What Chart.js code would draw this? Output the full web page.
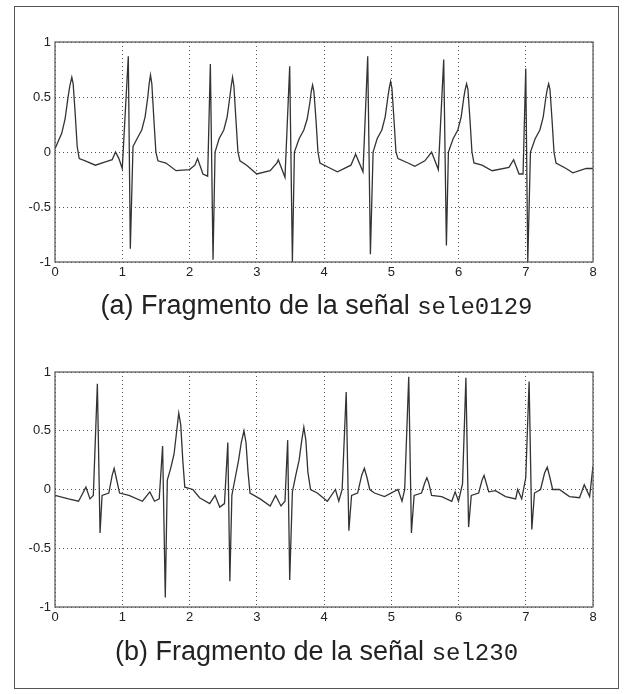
<!DOCTYPE html>
<html>
<head>
<meta charset="utf-8">
<script src="https://cdn.jsdelivr.net/npm/chart.js@4/dist/chart.umd.min.js"></script>
<style>
  body { margin: 0; background: #fff; }
  #frame { position: absolute; left: 14px; top: 6px; width: 603px; height: 681px; border: 1.5px solid #555; }
  canvas { position: absolute; left: 0; }
  .cap { position: absolute; left: 0; width: 633px; text-align: center; font-family: "Liberation Sans", Arial, sans-serif; font-size: 27px; color: #222; }
  .cap span { font-family: "Liberation Mono", "DejaVu Sans Mono", monospace; font-size: 24px; }
</style>
</head>
<body>
<div id="frame"></div>
<canvas id="c1" style="top:0"></canvas>
<canvas id="c2" style="top:330px"></canvas>
<div class="cap" style="top:290px">(a) Fragmento de la señal <span>sele0129</span></div>
<div class="cap" style="top:636px">(b) Fragmento de la señal <span>sel230</span></div>
<script>
// señal sele0129 (tiempo en s, amplitud)
const timeA = [0, 0.05, 0.1, 0.15, 0.19, 0.22, 0.25, 0.27, 0.3, 0.33, 0.36, 0.45, 0.6, 0.75, 0.85, 0.9, 0.95, 1.0, 1.09, 1.12,
  1.16, 1.22, 1.29, 1.34, 1.38, 1.4, 1.42, 1.44, 1.47, 1.5, 1.53, 1.65, 1.8, 2.0, 2.08, 2.12, 2.2, 2.27, 2.31, 2.35,
  2.38, 2.44, 2.51, 2.56, 2.6, 2.62, 2.64, 2.66, 2.69, 2.72, 2.75, 2.85, 3.0, 3.2, 3.3, 3.32, 3.42, 3.49, 3.53,
  3.56, 3.63, 3.7, 3.75, 3.79, 3.81, 3.83, 3.85, 3.88, 3.91, 3.94, 4.1, 4.2, 4.4, 4.47, 4.58, 4.65, 4.69,
  4.73, 4.79, 4.86, 4.91, 4.95, 4.97, 4.99, 5.01, 5.04, 5.07, 5.1, 5.25, 5.35, 5.5, 5.6, 5.7, 5.78, 5.82,
  5.85, 5.92, 5.99, 6.04, 6.08, 6.1, 6.12, 6.14, 6.17, 6.2, 6.23, 6.35, 6.5, 6.75, 6.82, 6.9, 6.96, 7.0, 7.03,
  7.07, 7.14, 7.21, 7.26, 7.3, 7.32, 7.34, 7.36, 7.39, 7.42, 7.45, 7.6, 7.7, 7.9, 8.0];
const ampA = [0.03, 0.1, 0.17, 0.3, 0.48, 0.6, 0.68, 0.62, 0.35, 0.05, -0.06, -0.08, -0.12, -0.09, -0.07, 0.0, -0.06, -0.15, 0.87, -0.88,
  0.05, 0.12, 0.2, 0.32, 0.5, 0.62, 0.7, 0.62, 0.3, 0.0, -0.08, -0.1, -0.17, -0.16, -0.12, -0.06, -0.2, -0.22, 0.8, -0.98,
  0.0, 0.12, 0.2, 0.32, 0.5, 0.6, 0.68, 0.6, 0.3, 0.0, -0.08, -0.12, -0.2, -0.17, -0.1, -0.07, -0.23, 0.78, -1.0,
  0.0, 0.12, 0.2, 0.3, 0.45, 0.55, 0.61, 0.55, 0.3, 0.0, -0.1, -0.15, -0.18, -0.12, -0.02, -0.18, 0.87, -0.93,
  0.0, 0.12, 0.2, 0.32, 0.5, 0.58, 0.64, 0.58, 0.3, 0.0, -0.06, -0.1, -0.13, -0.08, 0.0, -0.16, 0.84, -0.85,
  0.0, 0.12, 0.2, 0.32, 0.5, 0.57, 0.62, 0.57, 0.3, 0.0, -0.1, -0.12, -0.17, -0.14, -0.07, -0.2, -0.2, 0.76, -1.0,
  0.0, 0.12, 0.2, 0.32, 0.5, 0.57, 0.62, 0.57, 0.3, 0.0, -0.1, -0.15, -0.19, -0.15, -0.15];

// señal sel230
const timeB = [0, 0.2, 0.35, 0.46, 0.52, 0.57, 0.63, 0.67, 0.7, 0.8, 0.85, 0.88, 0.91, 0.96, 1.1, 1.3, 1.41, 1.48, 1.55, 1.6, 1.64,
  1.67, 1.72, 1.77, 1.81, 1.84, 1.87, 1.9, 1.93, 2.05, 2.15, 2.3, 2.38, 2.45, 2.52, 2.57, 2.6,
  2.63, 2.68, 2.73, 2.77, 2.81, 2.84, 2.87, 2.9, 3.05, 3.2, 3.28, 3.36, 3.42, 3.46, 3.49,
  3.53, 3.58, 3.63, 3.67, 3.7, 3.73, 3.76, 3.8, 3.9, 4.05, 4.17, 4.22, 4.27, 4.33, 4.37, 4.41, 4.5, 4.56, 4.6, 4.64, 4.68,
  4.75, 4.9, 5.1, 5.16, 5.2, 5.26, 5.3, 5.34, 5.45, 5.5, 5.53, 5.56, 5.6, 5.75, 5.9, 5.95, 6.0, 6.06, 6.11, 6.15, 6.19,
  6.3, 6.35, 6.38, 6.41, 6.45, 6.55, 6.7, 6.85, 6.88, 6.94, 7.0, 7.05, 7.09, 7.13, 7.22, 7.28, 7.32, 7.36, 7.4, 7.5, 7.65, 7.8, 7.87, 7.95, 8.0];
const ampB = [-0.05, -0.08, -0.1, 0.02, -0.08, -0.05, 0.9, -0.37, -0.05, -0.03, 0.12, 0.18, 0.1, -0.03, -0.05, -0.1, -0.02, -0.1, -0.08, 0.37, -0.92,
  0.08, 0.18, 0.3, 0.5, 0.65, 0.55, 0.25, 0.02, 0.0, -0.07, -0.12, -0.05, -0.15, -0.12, 0.4, -0.78,
  -0.05, 0.1, 0.25, 0.4, 0.5, 0.4, 0.15, -0.03, -0.08, -0.14, -0.05, -0.14, -0.1, 0.42, -0.77,
  -0.02, 0.12, 0.25, 0.42, 0.53, 0.42, 0.15, 0.0, -0.03, -0.1, 0.0, -0.1, 0.0, 0.83, -0.35, -0.05, -0.03, 0.12, 0.18, 0.1, 0.0,
  -0.03, -0.06, 0.0, -0.1, 0.0, 0.96, -0.37, -0.05, -0.03, 0.06, 0.1, 0.05, -0.05, -0.06, -0.1, -0.02, -0.1, 0.05, 0.95, -0.32, -0.05,
  -0.03, 0.08, 0.12, 0.06, -0.02, -0.01, -0.06, -0.08, 0.0, -0.08, 0.1, 0.92, -0.34, -0.03, 0.0, 0.14, 0.19, 0.1, 0.0, 0.0, -0.06, -0.07, 0.04, -0.06, 0.2];

const xTicks = [0, 1, 2, 3, 4, 5, 6, 7, 8];
const yTicks = [-1, -0.5, 0, 0.5, 1];

const boxPlugin = {
  id: 'box',
  afterDraw(chart) {
    const a = chart.chartArea, ctx = chart.ctx;
    ctx.save();
    ctx.strokeStyle = '#555';
    ctx.lineWidth = 1.2;
    ctx.strokeRect(a.left, a.top, a.right - a.left, a.bottom - a.top);
    ctx.restore();
  }
};

function makeChart(id, height, bottomPad, xs, ys) {
  const canvas = document.getElementById(id);
  canvas.width = 633;
  canvas.height = height;
  canvas.style.width = '633px';
  canvas.style.height = height + 'px';
  const pts = xs.map((x, i) => ({ x: x, y: ys[i] }));
  const font = { family: '"Liberation Sans", Arial, sans-serif', size: 13 };
  return new Chart(canvas, {
    type: 'scatter',
    data: { datasets: [{ data: pts, showLine: true, borderColor: '#333', borderWidth: 1.3, pointRadius: 0, tension: 0 }] },
    plugins: [boxPlugin],
    options: {
      responsive: false,
      animation: false,
      layout: { padding: { left: 15, right: 40, top: 42, bottom: bottomPad } },
      plugins: { legend: { display: false }, tooltip: { enabled: false } },
      scales: {
        x: {
          min: 0, max: 8,
          afterBuildTicks: s => { s.ticks = xTicks.map(v => ({ value: v })); },
          afterFit: s => { s.height = 20; },
          ticks: { color: '#222', font: font, padding: 3, maxRotation: 0, callback: v => String(v) },
          grid: { color: '#555', lineWidth: 1, drawTicks: false },
          border: { display: false, dash: [1, 3] }
        },
        y: {
          min: -1, max: 1,
          afterBuildTicks: s => { s.ticks = yTicks.map(v => ({ value: v })); },
          afterFit: s => { s.width = 40; },
          ticks: { color: '#222', font: font, padding: 4, callback: v => String(v) },
          grid: { color: '#555', lineWidth: 1, drawTicks: false },
          border: { display: false, dash: [1, 3] }
        }
      }
    }
  });
}

makeChart('c1', 300, 18, timeA, ampA);
makeChart('c2', 320, 23, timeB, ampB);
</script>
</body>
</html>
